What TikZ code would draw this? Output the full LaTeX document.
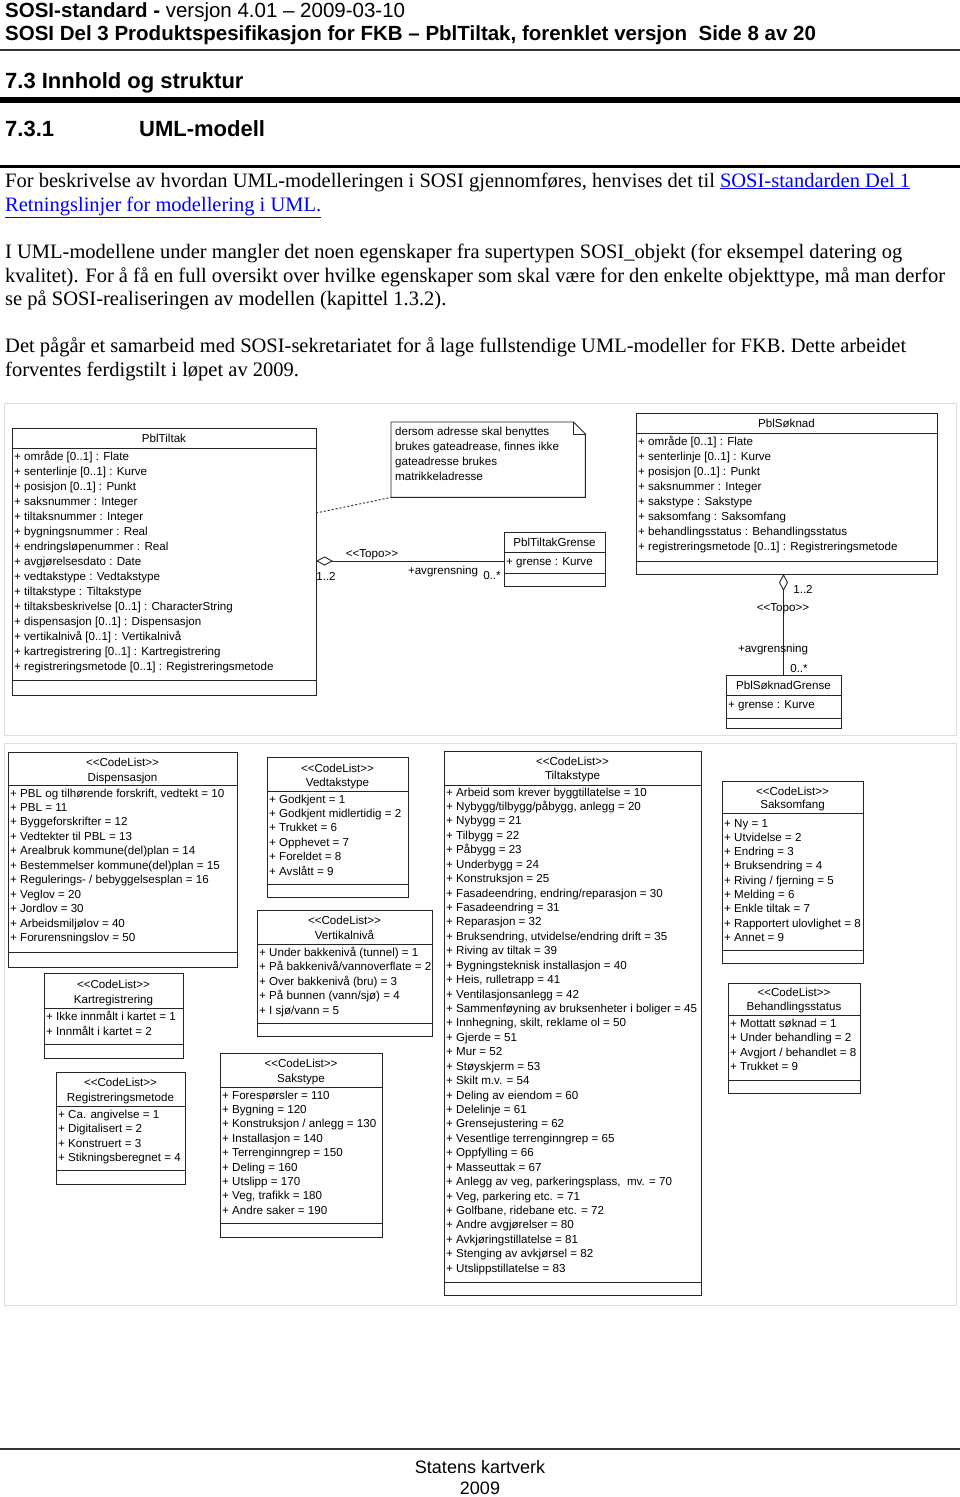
\documentclass[tikz,border=0pt]{standalone}
\usepackage{fontspec}
\setmainfont{Liberation Serif}
\newfontfamily\hdfont{Liberation Sans}
\newfontfamily\umlfont{Liberation Sans}
\usetikzlibrary{arrows.meta}
\definecolor{linkblue}{RGB}{0,0,255}
\definecolor{framegray}{RGB}{222,222,222}
\newcommand{\stereo}[1]{<\kern0pt<#1>\kern0pt>}
\newcommand{\weblink}[1]{{\color{linkblue}\underline{#1}}}

\begin{document}
\begin{tikzpicture}[x=1pt,y=-1pt,
    box/.style={draw=black!85,line width=0.9pt,anchor=north west,inner sep=0,outer sep=0},
    item/.style={anchor=base west,inner sep=0,font={\umlfont\fontsize{11.6}{14}\selectfont}},
    title/.style={anchor=base,inner sep=0,font={\umlfont\fontsize{11.6}{14}\selectfont}},
    sep/.style={draw=black!85,line width=0.9pt},
    para/.style={anchor=base west,inner sep=0,font={\fontsize{20.5}{24}\selectfont}},
    head/.style={anchor=base west,inner sep=0,font={\hdfont\bfseries\fontsize{20.5}{24}\selectfont}},
    sechead/.style={anchor=base west,inner sep=0,font={\hdfont\bfseries\fontsize{22}{26}\selectfont}},
    aggr/.style={draw=black!85,line width=0.9pt,{Diamond[open,length=17pt,width=9pt]}-}]
\useasboundingbox (0,0) rectangle (960,1497);
\fill[white] (0,0) rectangle (960,1497);

% page head
\node[head] (hd1) at (5,17) {SOSI-standard -\mdseries\ versjon 4.01 – 2009-03-10};
\node[head] (hd2) at (5,40) {SOSI Del 3 Produktspesifikasjon for FKB – PblTiltak, forenklet versjon\ \ Side 8 av 20};
\draw[black!80,line width=2pt] (0,50) -- (960,50);
\node[sechead] (sec) at (5,88) {7.3 Innhold og struktur};
\draw[black,line width=6pt] (0,100) -- (960,100);
\node[sechead] (subnum) at (5,136) {7.3.1};
\node[sechead] (subsec) at (139,136) {UML-modell};
\draw[black,line width=3pt] (0,166) -- (960,166);

% text
\node[para] (p1a) at (5,187) {\makebox[905pt][s]{For beskrivelse av hvordan UML-modelleringen i SOSI gjennomføres, henvises det til \weblink{SOSI-standarden Del 1}}};
\node[para] (p1b) at (5,211) {\weblink{Retningslinjer for modellering i UML.}};
\node[para] (p2a) at (5,258) {\makebox[897pt][s]{I UML-modellene under mangler det noen egenskaper fra supertypen SOSI\_objekt (for eksempel datering og}};
\node[para] (p2b) at (5,282) {\makebox[940pt][s]{kvalitet). For å få en full oversikt over hvilke egenskaper som skal være for den enkelte objekttype, må man derfor}};
\node[para] (p2c) at (5,305) {se på SOSI-realiseringen av modellen (kapittel 1.3.2).};
\node[para] (p3a) at (5,352) {\makebox[901pt][s]{Det pågår et samarbeid med SOSI-sekretariatet for å lage fullstendige UML-modeller for FKB. Dette arbeidet}};
\node[para] (p3b) at (5,376) {forventes ferdigstilt i løpet av 2009.};

% upper diagram
\draw[framegray,line width=1pt] (4,403) rectangle (956,735);

\node[box,minimum width=304pt,minimum height=267pt] (tiltak) at (12,428) {};
\node[title] (tiltakname) at (164,442) {PblTiltak};
\draw[sep] (tiltak.west |- 0,448) -- (tiltak.east |- 0,448);
\foreach \a [count=\i from 0] in {{+ område [0..1] : Flate},{+ senterlinje [0..1] : Kurve},{+ posisjon [0..1] : Punkt},
    {+ saksnummer : Integer},{+ tiltaksnummer : Integer},{+ bygningsnummer : Real},{+ endringsløpenummer : Real},
    {+ avgjørelsesdato : Date},{+ vedtakstype : Vedtakstype},{+ tiltakstype : Tiltakstype},
    {+ tiltaksbeskrivelse [0..1] : CharacterString},{+ dispensasjon [0..1] : Dispensasjon},
    {+ vertikalnivå [0..1] : Vertikalnivå},{+ kartregistrering [0..1] : Kartregistrering},
    {+ registreringsmetode [0..1] : Registreringsmetode}}
  \node[item] (tiltak-\i) at (14,{460+15.07*\i}) {\a};
\draw[sep] (tiltak.west |- 0,680) -- (tiltak.east |- 0,680);

\node[anchor=north west,minimum width=194pt,minimum height=75pt,inner sep=0] (note) at (391,422) {};
\draw[sep] (note.north west) -- ([xshift=-12pt]note.north east) -- ([yshift=-12pt]note.north east)
  -- (note.south east) -- (note.south west) -- cycle;
\draw[sep] ([xshift=-12pt]note.north east) -- ([xshift=-12pt,yshift=-12pt]note.north east) -- ([yshift=-12pt]note.north east);
\foreach \a [count=\i from 0] in {dersom adresse skal benyttes,{brukes gateadrease, finnes ikke},gateadresse brukes,matrikkeladresse}
  \node[item] (note-\i) at (395,{435+15*\i}) {\a};
\coordinate (tiltakdot) at (316,513);
\draw[black!85,line width=0.9pt,dash pattern=on 2pt off 2pt] (tiltakdot) -- (note.south west);

\node[box,minimum width=101pt,minimum height=54pt] (tgrense) at (504,532) {};
\node[title] (tgrensename) at (554.5,546) {PblTiltakGrense};
\draw[sep] (tgrense.west |- 0,552) -- (tgrense.east |- 0,552);
\node[item] (tgrense-0) at (506,565) {+ grense : Kurve};
\draw[sep] (tgrense.west |- 0,573) -- (tgrense.east |- 0,573);

\draw[aggr] (tiltak.east |- 0,561) -- (tgrense.west |- 0,561);
\node[title] (topo1) at (372,557) {\stereo{Topo}};
\node[title] (mult1) at (326,580) {1..2};
\node[title] (role1) at (443,574) {+avgrensning};
\node[title] (mult2) at (492,579) {0..*};

\node[box,minimum width=301pt,minimum height=161pt] (soknad) at (636,413) {};
\node[title] (soknadname) at (786.5,427) {PblSøknad};
\draw[sep] (soknad.west |- 0,433) -- (soknad.east |- 0,433);
\foreach \a [count=\i from 0] in {{+ område [0..1] : Flate},{+ senterlinje [0..1] : Kurve},{+ posisjon [0..1] : Punkt},
    {+ saksnummer : Integer},{+ sakstype : Sakstype},{+ saksomfang : Saksomfang},
    {+ behandlingsstatus : Behandlingsstatus},{+ registreringsmetode [0..1] : Registreringsmetode}}
  \node[item] (soknad-\i) at (638,{445+15*\i}) {\a};
\draw[sep] (soknad.west |- 0,561) -- (soknad.east |- 0,561);

\node[box,minimum width=115pt,minimum height=53pt] (sgrense) at (726,675) {};
\node[title] (sgrensename) at (783.5,689) {PblSøknadGrense};
\draw[sep] (sgrense.west |- 0,695) -- (sgrense.east |- 0,695);
\node[item] (sgrense-0) at (728,708) {+ grense : Kurve};
\draw[sep] (sgrense.west |- 0,718) -- (sgrense.east |- 0,718);

\draw[aggr] (soknad.south -| sgrense.north) -- (sgrense.north);
\node[title] (mult3) at (803,593) {1..2};
\node[title] (topo2) at (783,611) {\stereo{Topo}};
\node[title] (role2) at (773,652) {+avgrensning};
\node[title] (mult4) at (799,672) {0..*};

% lower diagram
\draw[framegray,line width=1pt] (4,743) rectangle (956,1305);

\node[box,minimum width=229pt,minimum height=215pt] (disp) at (8,752) {};
\node[title] (disp-st) at (122.5,766) {\stereo{CodeList}};
\node[title] (disp-name) at (122.5,781) {Dispensasjon};
\draw[sep] (disp.west |- 0,785) -- (disp.east |- 0,785);
\foreach \a [count=\i from 0] in {{+ PBL og tilhørende forskrift, vedtekt = 10},{+ PBL = 11},{+ Byggeforskrifter = 12},
    {+ Vedtekter til PBL = 13},{+ Arealbruk kommune(del)plan = 14},{+ Bestemmelser kommune(del)plan = 15},
    {+ Regulerings- / bebyggelsesplan = 16},{+ Veglov = 20},{+ Jordlov = 30},{+ Arbeidsmiljølov = 40},
    {+ Forurensningslov = 50}}
  \node[item] (disp-\i) at (10,{797+14.45*\i}) {\a};
\draw[sep] (disp.west |- 0,952) -- (disp.east |- 0,952);

\node[box,minimum width=141pt,minimum height=140pt] (vedtak) at (267,757) {};
\node[title] (vedtak-st) at (337.5,772) {\stereo{CodeList}};
\node[title] (vedtak-name) at (337.5,786) {Vedtakstype};
\draw[sep] (vedtak.west |- 0,791) -- (vedtak.east |- 0,791);
\foreach \a [count=\i from 0] in {{+ Godkjent = 1},{+ Godkjent midlertidig = 2},{+ Trukket = 6},{+ Opphevet = 7},
    {+ Foreldet = 8},{+ Avslått = 9}}
  \node[item] (vedtak-\i) at (269,{803+14.4*\i}) {\a};
\draw[sep] (vedtak.west |- 0,884) -- (vedtak.east |- 0,884);

\node[box,minimum width=175pt,minimum height=126pt] (vert) at (257,910) {};
\node[title] (vert-st) at (344.5,924) {\stereo{CodeList}};
\node[title] (vert-name) at (344.5,939) {Vertikalnivå};
\draw[sep] (vert.west |- 0,944) -- (vert.east |- 0,944);
\foreach \a [count=\i from 0] in {{+ Under bakkenivå (tunnel) = 1},{+ På bakkenivå/vannoverflate = 2},
    {+ Over bakkenivå (bru) = 3},{+ På bunnen (vann/sjø) = 4},{+ I sjø/vann = 5}}
  \node[item] (vert-\i) at (259,{956+14.5*\i}) {\a};
\draw[sep] (vert.west |- 0,1023) -- (vert.east |- 0,1023);

\node[box,minimum width=139pt,minimum height=85pt] (kart) at (44,973) {};
\node[title] (kart-st) at (113.5,988) {\stereo{CodeList}};
\node[title] (kart-name) at (113.5,1003) {Kartregistrering};
\draw[sep] (kart.west |- 0,1008) -- (kart.east |- 0,1008);
\node[item] (kart-0) at (46,1020) {+ Ikke innmålt i kartet = 1};
\node[item] (kart-1) at (46,1035) {+ Innmålt i kartet = 2};
\draw[sep] (kart.west |- 0,1044) -- (kart.east |- 0,1044);

\node[box,minimum width=129pt,minimum height=112pt] (regm) at (56,1072) {};
\node[title] (regm-st) at (120.5,1086) {\stereo{CodeList}};
\node[title] (regm-name) at (120.5,1101) {Registreringsmetode};
\draw[sep] (regm.west |- 0,1106) -- (regm.east |- 0,1106);
\foreach \a [count=\i from 0] in {{+ Ca. angivelse = 1},{+ Digitalisert = 2},{+ Konstruert = 3},{+ Stikningsberegnet = 4}}
  \node[item] (regm-\i) at (58,{1118+14.5*\i}) {\a};
\draw[sep] (regm.west |- 0,1170) -- (regm.east |- 0,1170);

\node[box,minimum width=162pt,minimum height=184pt] (sak) at (220,1053) {};
\node[title] (sak-st) at (301,1067) {\stereo{CodeList}};
\node[title] (sak-name) at (301,1082) {Sakstype};
\draw[sep] (sak.west |- 0,1087) -- (sak.east |- 0,1087);
\foreach \a [count=\i from 0] in {{+ Forespørsler = 110},{+ Bygning = 120},{+ Konstruksjon / anlegg = 130},
    {+ Installasjon = 140},{+ Terrenginngrep = 150},{+ Deling = 160},{+ Utslipp = 170},
    {+ Veg, trafikk = 180},{+ Andre saker = 190}}
  \node[item] (sak-\i) at (222,{1099+14.4*\i}) {\a};
\draw[sep] (sak.west |- 0,1223) -- (sak.east |- 0,1223);

\node[box,minimum width=257pt,minimum height=544pt] (tiltype) at (444,751) {};
\node[title] (tiltype-st) at (572.5,765) {\stereo{CodeList}};
\node[title] (tiltype-name) at (572.5,779) {Tiltakstype};
\draw[sep] (tiltype.west |- 0,785) -- (tiltype.east |- 0,785);
\foreach \a [count=\i from 0] in {{+ Arbeid som krever byggtillatelse = 10},{+ Nybygg/tilbygg/påbygg, anlegg = 20},
    {+ Nybygg = 21},{+ Tilbygg = 22},{+ Påbygg = 23},{+ Underbygg = 24},{+ Konstruksjon = 25},
    {+ Fasadeendring, endring/reparasjon = 30},{+ Fasadeendring = 31},{+ Reparasjon = 32},
    {+ Bruksendring, utvidelse/endring drift = 35},{+ Riving av tiltak = 39},
    {+ Bygningsteknisk installasjon = 40},{+ Heis, rulletrapp = 41},{+ Ventilasjonsanlegg = 42},
    {+ Sammenføyning av bruksenheter i boliger = 45},{+ Innhegning, skilt, reklame ol = 50},
    {+ Gjerde = 51},{+ Mur = 52},{+ Støyskjerm = 53},{+ Skilt m.v. = 54},{+ Deling av eiendom = 60},
    {+ Delelinje = 61},{+ Grensejustering = 62},{+ Vesentlige terrenginngrep = 65},{+ Oppfylling = 66},
    {+ Masseuttak = 67},{+ Anlegg av veg, parkeringsplass,\ \ mv. = 70},{+ Veg, parkering etc. = 71},
    {+ Golfbane, ridebane etc. = 72},{+ Andre avgjørelser = 80},{+ Avkjøringstillatelse = 81},
    {+ Stenging av avkjørsel = 82},{+ Utslippstillatelse = 83}}
  \node[item] (tiltype-\i) at (446,{796+14.43*\i}) {\a};
\draw[sep] (tiltype.west |- 0,1282) -- (tiltype.east |- 0,1282);

\node[box,minimum width=141pt,minimum height=182pt] (omf) at (722,781) {};
\node[title] (omf-st) at (792.5,795) {\stereo{CodeList}};
\node[title] (omf-name) at (792.5,808) {Saksomfang};
\draw[sep] (omf.west |- 0,813) -- (omf.east |- 0,813);
\foreach \a [count=\i from 0] in {{+ Ny = 1},{+ Utvidelse = 2},{+ Endring = 3},{+ Bruksendring = 4},
    {+ Riving / fjerning = 5},{+ Melding = 6},{+ Enkle tiltak = 7},{+ Rapportert ulovlighet = 8},{+ Annet = 9}}
  \node[item] (omf-\i) at (724,{827+14.3*\i}) {\a};
\draw[sep] (omf.west |- 0,950) -- (omf.east |- 0,950);

\node[box,minimum width=132pt,minimum height=110pt] (beh) at (728,983) {};
\node[title] (beh-st) at (794,996) {\stereo{CodeList}};
\node[title] (beh-name) at (794,1010) {Behandlingsstatus};
\draw[sep] (beh.west |- 0,1015) -- (beh.east |- 0,1015);
\foreach \a [count=\i from 0] in {{+ Mottatt søknad = 1},{+ Under behandling = 2},{+ Avgjort / behandlet = 8},{+ Trukket = 9}}
  \node[item] (beh-\i) at (730,{1027+14.5*\i}) {\a};
\draw[sep] (beh.west |- 0,1080) -- (beh.east |- 0,1080);

% page foot
\draw[black!80,line width=2pt] (0,1449) -- (960,1449);
\node[anchor=base,inner sep=0,font={\hdfont\fontsize{18}{22}\selectfont}] (foot1) at (480,1473) {Statens kartverk};
\node[anchor=base,inner sep=0,font={\hdfont\fontsize{18}{22}\selectfont}] (foot2) at (480,1494) {2009};
\end{tikzpicture}
\end{document}
